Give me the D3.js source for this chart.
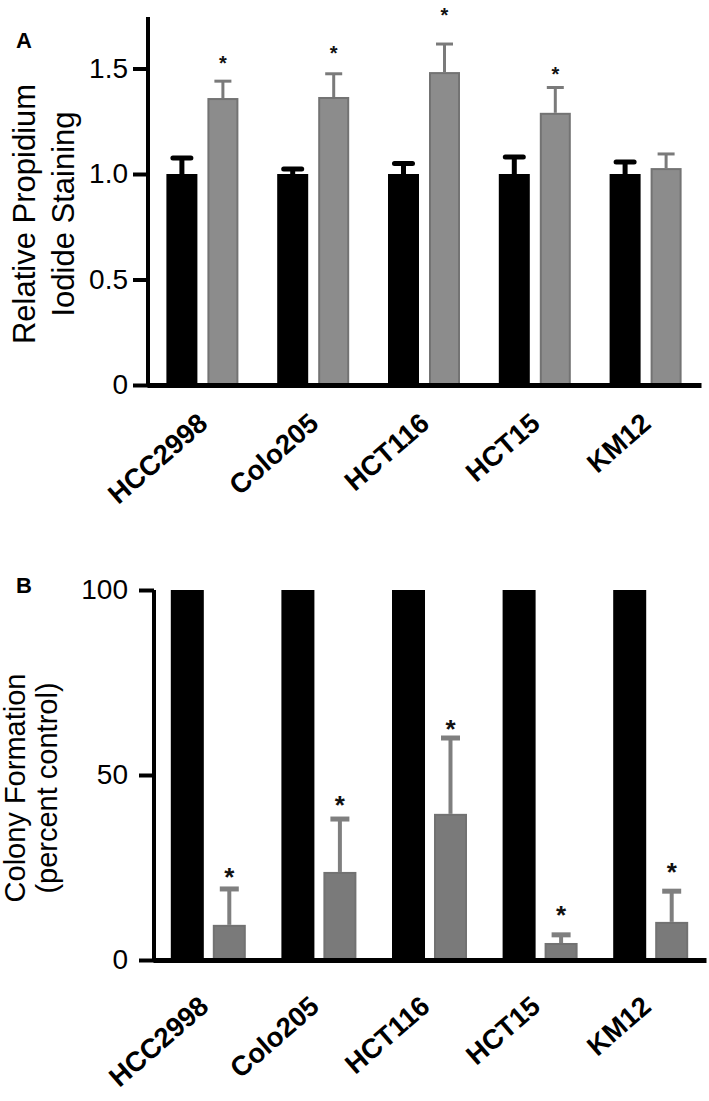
<!DOCTYPE html>
<html>
<head>
<meta charset="utf-8">
<script src="https://cdn.jsdelivr.net/npm/d3@7"></script>
<style>
  html, body { margin: 0; padding: 0; background: #fff; }
  svg { display: block; }
  text { font-family: "Liberation Sans", Arial, Helvetica, sans-serif; }
</style>
</head>
<body>
<svg id="chart" width="709" height="1101"></svg>
<script>
// ---------- data ----------
const categories = ["HCC2998", "Colo205", "HCT116", "HCT15", "KM12"];

// Panel A: relative propidium iodide staining
const aControl     = [1.0, 1.0, 1.0, 1.0, 1.0];
const aControlErr  = [0.076, 0.024, 0.05, 0.08, 0.057];
const aTreated     = [1.36, 1.365, 1.483, 1.29, 1.028];
const aTreatedErr  = [0.08, 0.11, 0.133, 0.12, 0.067];
const aStars       = [1.554, 1.597, 1.777, 1.498, null];
const aTicks       = [0, 0.5, 1.0, 1.5];
const aTickLabels  = ["0", "0.5", "1.0", "1.5"];

// Panel B: colony formation (percent control)
const bControl     = [100, 100, 100, 100, 100];
const bTreated     = [9.5, 23.8, 39.5, 4.6, 10.3];
const bTreatedErr  = [9.7, 14.3, 20.5, 2.2, 8.3];
const bStars       = [24.3, 43.8, 64.3, 14.1, 25.7];
const bTicks       = [0, 50, 100];
const bTickLabels  = ["0", "50", "100"];

// ---------- drawing ----------
const svg = d3.select("#chart");
const FONT = '"Liberation Sans", Arial, Helvetica, sans-serif';

function panel(cfg) {
  const g = svg.append("g");
  const x = d3.scaleBand().domain(categories).range(cfg.xRange).padding(0);
  const xi = d3.scaleBand().domain(["c", "t"])
    .range([x.bandwidth() / 2 - cfg.pairHalf, x.bandwidth() / 2 + cfg.pairHalf])
    .paddingInner(cfg.innerPad);
  const y = d3.scaleLinear().domain(cfg.yDomain).range(cfg.yRange);
  const bw = xi.bandwidth();

  // control (black) error bars
  if (cfg.ctrlErr) {
    categories.forEach((c, i) => {
      const cx = x(c) + xi("c") + bw / 2;
      const top = y(cfg.ctrl[i] + cfg.ctrlErr[i]);
      g.append("line").attr("x1", cx).attr("x2", cx)
        .attr("y1", y(cfg.ctrl[i])).attr("y2", top)
        .attr("stroke", "#000").attr("stroke-width", 5);
      g.append("line").attr("x1", cx - 9).attr("x2", cx + 9)
        .attr("y1", top).attr("y2", top)
        .attr("stroke", "#000").attr("stroke-width", 5).attr("stroke-linecap", "round");
    });
  }

  // treated error bars
  categories.forEach((c, i) => {
    const cx = x(c) + xi("t") + bw / 2;
    const top = y(cfg.trt[i] + cfg.trtErr[i]);
    g.append("line").attr("x1", cx).attr("x2", cx)
      .attr("y1", y(cfg.trt[i])).attr("y2", top)
      .attr("stroke", cfg.errColor).attr("stroke-width", cfg.stemW);
    g.append("line").attr("x1", cx - cfg.capHalf).attr("x2", cx + cfg.capHalf)
      .attr("y1", top).attr("y2", top)
      .attr("stroke", cfg.errColor).attr("stroke-width", cfg.capW);
  });

  // bars
  g.selectAll("rect.ctrl").data(categories).join("rect").attr("class", "ctrl")
    .attr("x", c => x(c) + xi("c")).attr("width", bw)
    .attr("y", (c, i) => y(cfg.ctrl[i]))
    .attr("height", (c, i) => y(0) - y(cfg.ctrl[i]))
    .attr("fill", "#000");
  g.selectAll("rect.trt").data(categories).join("rect").attr("class", "trt")
    .attr("x", c => x(c) + xi("t") + 1).attr("width", bw - 2)
    .attr("y", (c, i) => y(cfg.trt[i]) + 1)
    .attr("height", (c, i) => Math.max(0, y(0) - y(cfg.trt[i]) - 1))
    .attr("fill", cfg.trtFill).attr("stroke", cfg.trtStroke).attr("stroke-width", 2);

  // significance stars
  categories.forEach((c, i) => {
    if (cfg.stars[i] == null) return;
    g.append("text")
      .attr("x", x(c) + xi("t") + bw / 2).attr("y", y(cfg.stars[i]))
      .attr("dy", cfg.starDy).attr("text-anchor", "middle")
      .attr("font-size", cfg.starSize).attr("font-weight", "bold")
      .attr("fill", "#111").text("*");
  });

  // x axis baseline
  const xAxis = g.append("g").attr("transform", `translate(0,${y(0)})`)
    .call(d3.axisBottom(x).tickSize(0).tickFormat(""));
  xAxis.select(".domain").attr("stroke", "#000").attr("stroke-width", 5);

  // y axis
  const yAxis = g.append("g").attr("transform", `translate(${cfg.yAxisX},0)`)
    .call(d3.axisLeft(y).tickValues(cfg.ticks).tickSize(15).tickSizeOuter(0)
      .tickPadding(cfg.tickPad).tickFormat((d, i) => cfg.tickLabels[i]));
  yAxis.select(".domain").attr("stroke", "#000").attr("stroke-width", 4)
    .attr("d", `M0,${y(0) + 2}V${cfg.yRange[1]}`);
  yAxis.selectAll(".tick line").attr("stroke", "#000").attr("stroke-width", 4);
  yAxis.selectAll(".tick text").attr("font-family", FONT).attr("font-size", 28).attr("fill", "#000");

  // rotated category labels
  categories.forEach(c => {
    const cx = x(c) + x.bandwidth() / 2;
    g.append("g")
      .attr("transform", `translate(${cx + cfg.lblDx},${y(0) + cfg.lblDy}) rotate(-41)`)
      .append("text")
      .attr("text-anchor", "end").attr("font-size", 27.5).attr("font-weight", "bold")
      .attr("fill", "#000").text(c);
  });

  // y title (two lines)
  cfg.title.forEach((t, k) => {
    g.append("text")
      .attr("transform", `translate(${cfg.titleX[k]},${cfg.titleY}) rotate(-90)`)
      .attr("text-anchor", "middle").attr("font-size", cfg.titleSize)
      .attr("fill", "#000").text(t);
  });

  // panel letter
  g.append("text").attr("x", cfg.letterX).attr("y", cfg.letterY)
    .attr("font-size", 22).attr("font-weight", "bold").attr("fill", "#000").text(cfg.letter);
}

panel({
  xRange: [147, 701], pairHalf: 36, innerPad: 0.244,
  yDomain: [0, 368 / 211], yRange: [385, 17], yAxisX: 148, tickPad: 5,
  ctrl: aControl, ctrlErr: aControlErr, trt: aTreated, trtErr: aTreatedErr,
  stars: aStars, ticks: aTicks, tickLabels: aTickLabels,
  trtFill: "#8c8c8c", trtStroke: "#737373", errColor: "#7a7a7a",
  stemW: 3, capW: 3, capHalf: 8.5, starSize: 20, starDy: "0.62em",
  lblDx: 7, lblDy: 41,
  title: ["Relative Propidium", "Iodide Staining"], titleX: [35, 74], titleY: 214, titleSize: 31,
  letter: "A", letterX: 16, letterY: 48
});

panel({
  xRange: [153, 706], pairHalf: 37.5, innerPad: 0.214,
  yDomain: [0, 100], yRange: [960, 590], yAxisX: 154, tickPad: 11,
  ctrl: bControl, ctrlErr: null, trt: bTreated, trtErr: bTreatedErr,
  stars: bStars, ticks: bTicks, tickLabels: bTickLabels,
  trtFill: "#7a7a7a", trtStroke: "#727272", errColor: "#7f7f7f",
  stemW: 4, capW: 5, capHalf: 9.5, starSize: 26, starDy: "0.62em",
  lblDx: 2, lblDy: 49,
  title: ["Colony Formation", "(percent control)"], titleX: [25, 57], titleY: 788, titleSize: 29,
  letter: "B", letterX: 16, letterY: 593
});
</script>
</body>
</html>
